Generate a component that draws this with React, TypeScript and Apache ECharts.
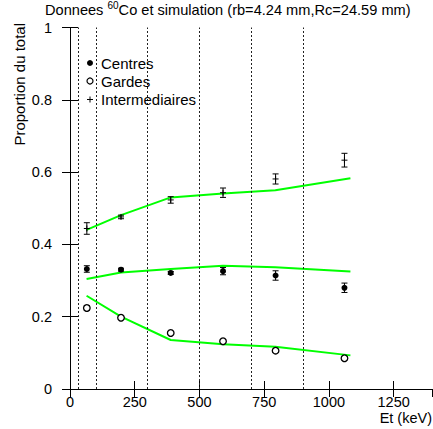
import React, { useEffect, useRef } from "react";
import * as echarts from "echarts";

// Measured data (Et in keV, proportion of total)
const energies = [65, 197, 389, 591, 794, 1060];
const centres = [0.332, 0.33, 0.321, 0.326, 0.314, 0.28];
const centresErr = [0.009, 0.004, 0.004, 0.01, 0.013, 0.013];
const gardes = [0.224, 0.197, 0.155, 0.132, 0.106, 0.085];
const gardesErr = [0.007, 0.004, 0.004, 0.004, 0.004, 0.004];
const inter = [0.444, 0.476, 0.523, 0.543, 0.581, 0.633];
const interErr = [0.016, 0.005, 0.009, 0.013, 0.014, 0.019];

// Simulation
const simEnergies = [64, 197, 389, 591, 793, 1083];
const simCentres = [0.304, 0.322, 0.332, 0.341, 0.337, 0.325];
const simGardes = [0.258, 0.2, 0.1355, 0.124, 0.117, 0.093];
const simInter = [0.44, 0.481, 0.53, 0.541, 0.55, 0.583];

// Dotted separators (keV)
const cutLines = [30, 100, 300, 500, 700, 900];

const FONT = "Liberation Sans, Arial, Helvetica, sans-serif";

function makeRender(kind: string) {
  return (params: any, api: any) => {
    const x = api.value(0);
    const y = api.value(1);
    const e = api.value(2);
    const c = api.coord([x, y]);
    const t = api.coord([x, y + e]);
    const b = api.coord([x, y - e]);
    const s = { stroke: "#000", lineWidth: 1 };
    const children: any[] = [];
    if (e > 0) {
      children.push({ type: "line", shape: { x1: c[0], y1: t[1], x2: c[0], y2: b[1] }, style: s });
      children.push({ type: "line", shape: { x1: c[0] - 3, y1: t[1], x2: c[0] + 3, y2: t[1] }, style: s });
      children.push({ type: "line", shape: { x1: c[0] - 3, y1: b[1], x2: c[0] + 3, y2: b[1] }, style: s });
    }
    if (kind === "filled") {
      children.push({ type: "circle", shape: { cx: c[0], cy: c[1], r: 3 }, style: { fill: "#000" } });
    } else if (kind === "open") {
      children.push({ type: "circle", shape: { cx: c[0], cy: c[1], r: 3.3 }, style: { fill: "#fff", stroke: "#000", lineWidth: 1.3 } });
    } else {
      children.push({ type: "line", shape: { x1: c[0] - 3, y1: c[1], x2: c[0] + 3, y2: c[1] }, style: s });
      children.push({ type: "line", shape: { x1: c[0], y1: c[1] - 3, x2: c[0], y2: c[1] + 3 }, style: s });
    }
    return { type: "group", children };
  };
}

export default function App() {
  const ref = useRef<HTMLDivElement>(null);
  useEffect(() => {
    if (!ref.current) return;
    const chart = echarts.init(ref.current, null, { renderer: "svg" });
    const axisCommon = {
      type: "value",
      axisLine: { show: true, lineStyle: { color: "#000", width: 1 } },
      axisTick: { show: true, inside: true, length: 8, lineStyle: { color: "#000" } },
      splitLine: { show: false },
    };
    const lineSeries = (name: string, ys: number[], withMark: boolean) => ({
      name,
      type: "line",
      data: simEnergies.map((x, i) => [x, ys[i]]),
      symbol: "none",
      lineStyle: { color: "#00ff00", width: 2 },
      z: 3,
      markLine: withMark
        ? {
            silent: true,
            symbol: ["none", "none"],
            label: { show: false },
            lineStyle: { color: "#222", type: [2, 2], width: 1 },
            data: cutLines.map((v) => ({ xAxis: v })),
          }
        : undefined,
    });
    const errSeries = (name: string, ys: number[], es: number[], kind: string) => ({
      name,
      type: "custom",
      renderItem: makeRender(kind),
      data: energies.map((x, i) => [x, ys[i], es[i]]),
      encode: { x: 0, y: 1 },
      z: 5,
    });
    chart.setOption({
      animation: false,
      backgroundColor: "#fff",
      textStyle: { fontFamily: FONT },
      title: {
        text: "{a|Donnees }{s|60}{a|Co et simulation (rb=4.24 mm,Rc=24.59 mm)}",
        left: 45,
        top: 0,
        padding: 0,
        textStyle: {
          fontWeight: "normal",
          rich: {
            a: { fontSize: 14.6, fontFamily: FONT, fontWeight: "normal", color: "#000", lineHeight: 20 },
            s: { fontSize: 10, fontFamily: FONT, fontWeight: "normal", color: "#000", verticalAlign: "top", lineHeight: 20 },
          },
        },
      },
      grid: { left: 70, right: 0.5, top: 27.5, bottom: 40, containLabel: false },
      xAxis: [
        {
          ...axisCommon,
          position: "bottom",
          min: 0,
          max: 1400,
          interval: 250,
          axisLabel: {
            color: "#000",
            fontSize: 14.5,
            fontFamily: FONT,
            margin: 5,
            showMaxLabel: false,
            formatter: (v: number) => String(v),
          },
        },
        {
          ...axisCommon,
          position: "top",
          min: 0,
          max: 1400,
          interval: 250,
          axisLabel: { show: false },
        },
      ],
      yAxis: [
        {
          ...axisCommon,
          position: "left",
          min: 0,
          max: 1,
          interval: 0.2,
          axisLabel: { color: "#000", fontSize: 14.5, fontFamily: FONT, margin: 18 },
        },
        {
          ...axisCommon,
          position: "right",
          min: 0,
          max: 1,
          interval: 0.2,
          axisLabel: { show: false },
        },
      ],
      series: [
        lineSeries("Simulation intermediaires", simInter, true),
        lineSeries("Simulation centres", simCentres, false),
        lineSeries("Simulation gardes", simGardes, false),
        errSeries("Centres", centres, centresErr, "filled"),
        errSeries("Gardes", gardes, gardesErr, "open"),
        errSeries("Intermediaires", inter, interErr, "plus"),
      ],
      graphic: [
        {
          type: "text",
          x: 19,
          y: 23,
          rotation: Math.PI / 2,
          style: { text: "Proportion du total", font: `15px ${FONT}`, fill: "#000", align: "right", verticalAlign: "middle" },
        },
        {
          type: "text",
          x: 432,
          y: 418,
          style: { text: "Et (keV)", font: `14.5px ${FONT}`, fill: "#000", align: "right", verticalAlign: "middle" },
        },
        { type: "circle", shape: { cx: 90, cy: 63, r: 3 }, style: { fill: "#000" }, z: 10 },
        { type: "text", x: 101, y: 63, style: { text: "Centres", font: `15px ${FONT}`, fill: "#000", verticalAlign: "middle" }, z: 10 },
        { type: "circle", shape: { cx: 90, cy: 81, r: 3 }, style: { fill: "#fff", stroke: "#000", lineWidth: 1.2 }, z: 10 },
        { type: "text", x: 101, y: 81, style: { text: "Gardes", font: `15px ${FONT}`, fill: "#000", verticalAlign: "middle" }, z: 10 },
        { type: "line", shape: { x1: 87, y1: 99.5, x2: 93, y2: 99.5 }, style: { stroke: "#000", lineWidth: 1 }, z: 10 },
        { type: "line", shape: { x1: 90, y1: 96.5, x2: 90, y2: 102.5 }, style: { stroke: "#000", lineWidth: 1 }, z: 10 },
        { type: "text", x: 101, y: 99.5, style: { text: "Intermediaires", font: `15px ${FONT}`, fill: "#000", verticalAlign: "middle" }, z: 10 },
      ],
    });
    return () => chart.dispose();
  }, []);
  return <div ref={ref} style={{ position: "absolute", left: 0, top: 0, width: 433, height: 429 }} />;
}
